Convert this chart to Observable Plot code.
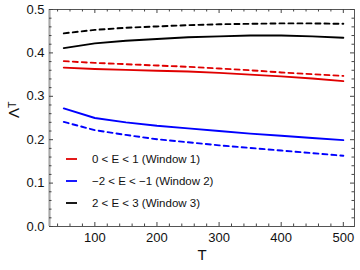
<!DOCTYPE html>
<html>
<head>
<meta charset="utf-8">
<script src="https://cdn.jsdelivr.net/npm/d3@7"></script>
<script src="https://cdn.jsdelivr.net/npm/@observablehq/plot@0.6"></script>
<style>
  html, body { margin: 0; padding: 0; background: #fff; }
  #wrap { position: relative; width: 360px; height: 270px; font-family: "Liberation Sans", Arial, sans-serif; }
  #legend { position: absolute; left: 66px; top: 148px; font-size: 11.5px; color: #111; }
  .row { display: flex; align-items: center; height: 22px; }
  .row svg { flex: none; margin-right: 15px; }
</style>
</head>
<body>
<div id="wrap"><div id="legend"></div></div>
<script>
const T = [50, 100, 150, 200, 250, 300, 350, 400, 450, 500];
const redSolid    = [0.366, 0.363, 0.361, 0.359, 0.357, 0.354, 0.350, 0.346, 0.341, 0.335];
const redDashed   = [0.381, 0.377, 0.374, 0.371, 0.368, 0.364, 0.360, 0.355, 0.351, 0.347];
const blueSolid   = [0.272, 0.250, 0.240, 0.232, 0.226, 0.220, 0.214, 0.209, 0.204, 0.199];
const blueDashed  = [0.241, 0.222, 0.211, 0.201, 0.194, 0.187, 0.181, 0.175, 0.169, 0.163];
const blackSolid  = [0.411, 0.422, 0.428, 0.432, 0.436, 0.438, 0.440, 0.440, 0.438, 0.435];
const blackDashed = [0.445, 0.453, 0.458, 0.461, 0.464, 0.466, 0.467, 0.468, 0.468, 0.467];

const legendLabels = ["0 < E < 1 (Window 1)", "\u22122 < E < \u22121 (Window 2)", "2 < E < 3 (Window 3)"];
const colors = ["#e00000", "#0000ff", "#000000"];

const xMajor = [100, 200, 300, 400, 500];
const xMinor = d3.range(40, 501, 20).filter(v => v % 100 !== 0);
const yMajor = [0, 0.1, 0.2, 0.3, 0.4, 0.5];
const yMinor = d3.range(0.02, 0.5, 0.02).filter(v => Math.abs(v * 10 - Math.round(v * 10)) > 1e-6);

const series = [
  {vals: redSolid, color: colors[0], dash: null},
  {vals: redDashed, color: colors[0], dash: "5,4"},
  {vals: blueSolid, color: colors[1], dash: null},
  {vals: blueDashed, color: colors[1], dash: "5,4"},
  {vals: blackSolid, color: colors[2], dash: null},
  {vals: blackDashed, color: colors[2], dash: "5,4"}
];

const W = 360, H = 270, mL = 49, mR = 6, mT = 9, mB = 44;
const pw = W - mL - mR, ph = H - mT - mB;
const tick = "#444";

const lineMarks = series.map(s => Plot.line(T.map((t, i) => ({T: t, v: s.vals[i]})), {
  x: "T", y: "v", stroke: s.color, strokeWidth: 1.9, strokeDasharray: s.dash
}));

const chart = Plot.plot({
  width: W, height: H,
  marginLeft: mL, marginRight: mR, marginTop: mT, marginBottom: mB,
  style: {fontFamily: "'Liberation Sans', Arial, sans-serif", background: "transparent"},
  x: {domain: [27, 518]},
  y: {domain: [0, 0.5]},
  marks: [
    Plot.frame({stroke: "#555", strokeWidth: 1}),
    Plot.ruleX([27], {stroke: "#a8a8a8", strokeWidth: 2.2}),
    Plot.tickX(xMajor, {x: d => d, insetTop: ph - 4, stroke: tick}),
    Plot.tickX(xMinor, {x: d => d, insetTop: ph - 2.5, stroke: tick}),
    Plot.tickX(xMajor, {x: d => d, insetBottom: ph - 4, stroke: tick}),
    Plot.tickX(xMinor, {x: d => d, insetBottom: ph - 2.5, stroke: tick}),
    Plot.tickY(yMajor, {y: d => d, insetRight: pw - 4, stroke: tick}),
    Plot.tickY(yMinor, {y: d => d, insetRight: pw - 2.5, stroke: tick}),
    Plot.tickY(yMajor, {y: d => d, insetLeft: pw - 4, stroke: tick}),
    Plot.tickY(yMinor, {y: d => d, insetLeft: pw - 2.5, stroke: tick}),
    Plot.axisX({ticks: xMajor, tickSize: 0, tickPadding: 6, fontSize: 13, label: null, fill: "#111"}),
    Plot.axisY({ticks: yMajor, tickFormat: d3.format(".1f"), tickSize: 0, tickPadding: 5, fontSize: 13, label: null, fill: "#111"}),
    ...lineMarks,
    Plot.text(["T"], {frameAnchor: "bottom", dy: 33, fontSize: 15, fill: "#111"}),
    Plot.text(["\u039B\u1D40"], {frameAnchor: "left", dx: -35, rotate: -90, fontSize: 15, fill: "#111"})
  ]
});

const wrap = document.getElementById("wrap");
wrap.insertBefore(chart, wrap.firstChild);

const legend = document.getElementById("legend");
const NS = "http://www.w3.org/2000/svg";
legendLabels.forEach((lab, i) => {
  const row = document.createElement("div");
  row.className = "row";
  const sw = document.createElementNS(NS, "svg");
  sw.setAttribute("width", "11");
  sw.setAttribute("height", "4");
  const ln = document.createElementNS(NS, "line");
  ln.setAttribute("x1", "0"); ln.setAttribute("x2", "11");
  ln.setAttribute("y1", "2"); ln.setAttribute("y2", "2");
  ln.setAttribute("stroke", colors[i]);
  ln.setAttribute("stroke-width", "1.8");
  sw.appendChild(ln);
  const tx = document.createElement("span");
  tx.textContent = lab;
  row.appendChild(sw);
  row.appendChild(tx);
  legend.appendChild(row);
});
</script>
</body>
</html>
